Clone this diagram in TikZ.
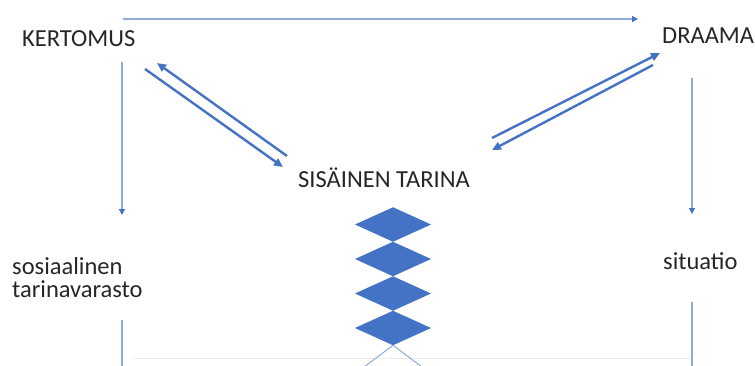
\documentclass[tikz,border=0pt]{standalone}
\usepackage{fontspec}
\setmainfont{Carlito}
\usetikzlibrary{arrows.meta,shapes.geometric}
\definecolor{dblue}{HTML}{4472C4}
\definecolor{lblue}{HTML}{8FAADC}
\definecolor{txt}{HTML}{262626}
\begin{document}
\begin{tikzpicture}[x=1pt,y=-1pt,
  lbl/.style={font=\fontsize{24.5}{23}\selectfont, text=txt, inner sep=0pt, anchor=base west},
  thin/.style={draw=lblue, line width=1.3pt},
  thinarr/.style={thin, -{Triangle[length=6pt,width=6pt,fill=dblue,color=dblue]}},
  thick/.style={draw=dblue, line width=2.4pt, -{Triangle[length=9pt,width=8pt]}},
  dia/.style={diamond, fill=dblue, minimum width=76pt, minimum height=34.5pt, inner sep=0pt, outer sep=0pt},
  faint/.style={draw=black!8, line width=0.8pt}]
\useasboundingbox (0,0) rectangle (755,365);
% labels
\node[lbl] (kert) at (22,46) {KERTOMUS};
\node[lbl] (draama) at (662,43) {DRAAMA};
\node[lbl] (sis) at (298,187) {SISÄINEN TARINA};
\node[lbl] (sos) at (12,274) {sosiaalinen};
\node[lbl] (sos2) at (12,297) {tarinavarasto};
\node[lbl] (sit) at (663,269) {situatio};
% diamonds
\node[dia] (d1) at (393,224.5) {};
\node[dia] (d2) at (393,259) {};
\node[dia] (d3) at (393,293.5) {};
\node[dia] (d4) at (393,328) {};
% connector end points
\coordinate (ta) at (123,19);
\coordinate (tb) at (638,19);
\coordinate (la) at (122,62);
\coordinate (lb) at (122,215);
\coordinate (lc) at (122,320);
\coordinate (ld) at (122,366);
\coordinate (ra) at (692,78);
\coordinate (rb) at (692,214);
\coordinate (rc) at (692,302);
\coordinate (rd) at (692,366);
\coordinate (k1) at (145,69);
\coordinate (s1) at (283,167);
\coordinate (s2) at (287,156);
\coordinate (k2) at (157,63);
\coordinate (s3) at (492,138);
\coordinate (dr1) at (660,53);
\coordinate (dr2) at (653,65);
\coordinate (s4) at (492,150);
\coordinate (xl) at (364,367);
\coordinate (xr) at (422,367);
\coordinate (fa) at (133,358);
\coordinate (fb) at (690,358);
% faint baseline
\draw[faint] (fa) -- (fb);
% connectors
\draw[thinarr] (ta) -- (tb);
\draw[thinarr] (la) -- (lb);
\draw[thin] (lc) -- (ld);
\draw[thinarr] (ra) -- (rb);
\draw[thin] (rc) -- (rd);
\draw[thick] (k1) -- (s1);
\draw[thick] (s2) -- (k2);
\draw[thick] (s3) -- (dr1);
\draw[thick] (dr2) -- (s4);
\draw[draw=lblue, line width=1pt] (xl) -- (d4.south) -- (xr);
\end{tikzpicture}
\end{document}
